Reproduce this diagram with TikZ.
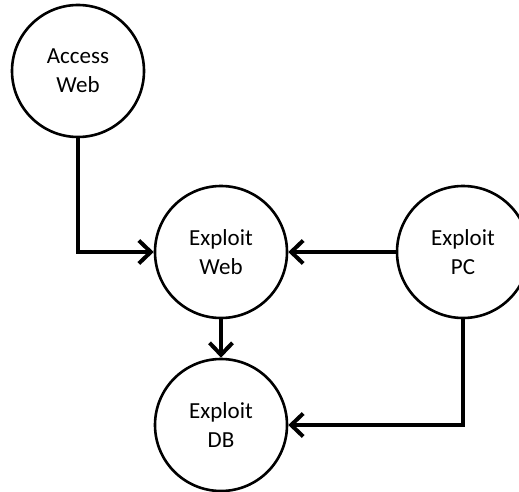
\documentclass[tikz,border=0pt]{standalone}
\usepackage{fontspec}
\setmainfont{Carlito}
\usetikzlibrary{arrows.meta}
\begin{document}
\begin{tikzpicture}[x=1pt,y=-1pt,
  state/.style={circle, draw=black, line width=2.6pt, fill=white,
    minimum size=132pt, inner sep=0pt, align=center,
    font=\fontsize{23}{29}\selectfont},
  link/.style={line width=4.5pt, -{Straight Barb[length=12pt,width=23pt,line width=4pt]}}
]
\useasboundingbox (0,0) rectangle (519,492);
\clip (0,0) rectangle (519,492);
\node[state] (aw) at (78,71)  {Access\\Web};
\node[state] (ew) at (221,252) {Exploit\\Web};
\node[state] (pc) at (463,252) {Exploit\\PC};
\node[state] (db) at (221,425) {Exploit\\DB};
\draw[link] (aw.south) |- (ew.west);
\draw[link] (pc.west) -- (ew.east);
\draw[link] (ew.south) -- (db.north);
\draw[link] (pc.south) |- (db.east);
\end{tikzpicture}
\end{document}
